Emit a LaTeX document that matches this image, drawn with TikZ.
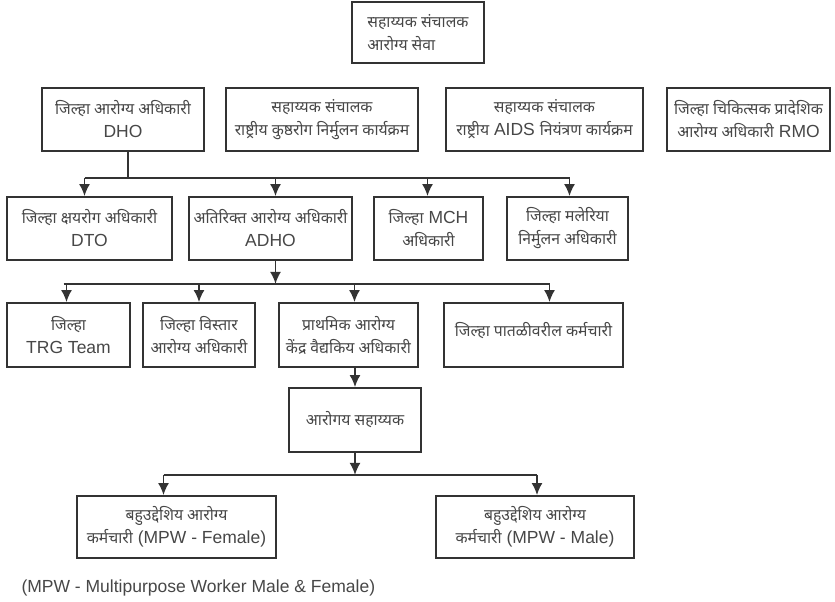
\documentclass[tikz,border=0pt]{standalone}
\usepackage{fontspec}
\setmainfont{Liberation Sans}
\newfontfamily\dvfont[Script=Devanagari,Scale=0.9]{Noto Sans}
\newcommand{\marathi}[1]{{\dvfont #1}}
\usetikzlibrary{arrows.meta}

\begin{document}
\begin{tikzpicture}[x=1pt, y=-1pt, >={Latex[length=12pt,width=11pt]},
  box/.style={draw=black!80, line width=1.8pt, text=black!72, minimum height=63pt,
    align=center, inner sep=2pt, font=\fontsize{17.5}{23}\selectfont},
  link/.style={draw=black!80, line width=1.8pt}]

\useasboundingbox (0,0) rectangle (835,602);

% top
\node (asd) [box, align=left, minimum width=132pt, minimum height=61pt] at (418,32.5)
  {\marathi{सहाय्यक संचालक}\\\marathi{आरोग्य सेवा}};

% row 1
\node (dho) [box, minimum width=162pt] at (123,119.5) {\marathi{जिल्हा आरोग्य अधिकारी}\\DHO};
\node (kusth) [box, minimum width=192pt] at (322,119.5) {\marathi{सहाय्यक संचालक}\\\marathi{राष्ट्रीय कुष्ठरोग निर्मुलन कार्यक्रम}};
\node (aids) [box, minimum width=197pt] at (544.5,119.5) {\marathi{सहाय्यक संचालक}\\\marathi{राष्ट्रीय} AIDS \marathi{नियंत्रण कार्यक्रम}};
\node (rmo) [box, minimum width=163pt] at (748.5,119.5) {\marathi{जिल्हा चिकित्सक प्रादेशिक}\\\marathi{आरोग्य अधिकारी} RMO};

% row 2
\node (dto) [box, minimum width=165pt] at (89.5,228.5) {\marathi{जिल्हा क्षयरोग अधिकारी}\\DTO};
\node (adho) [box, minimum width=163pt] at (270.5,228.5) {\marathi{अतिरिक्त आरोग्य अधिकारी}\\ADHO};
\node (mch) [box, minimum width=109pt] at (428.5,228.5) {\marathi{जिल्हा} MCH\\\marathi{अधिकारी}};
\node (mal) [box, minimum width=121pt] at (567.5,228.5) {\marathi{जिल्हा मलेरिया}\\\marathi{निर्मुलन अधिकारी}};

% row 3
\node (trg) [box, minimum width=123pt, minimum height=64pt] at (68.5,335) {\marathi{जिल्हा}\\TRG Team};
\node (vis) [box, minimum width=112pt, minimum height=64pt] at (199,335) {\marathi{जिल्हा विस्तार}\\\marathi{आरोग्य अधिकारी}};
\node (phc) [box, minimum width=139pt, minimum height=64pt] at (348.5,335) {\marathi{प्राथमिक आरोग्य}\\\marathi{केंद्र वैद्यकिय अधिकारी}};
\node (dist) [box, minimum width=179pt, minimum height=64pt] at (533.5,335) {};
\node (distlbl) [box, draw=none, minimum height=0pt] at ([yshift=4pt]dist.center) {\marathi{जिल्हा पातळीवरील कर्मचारी}};

% lower part
\node (ars) [box, minimum width=132pt, minimum height=64pt] at (355,420) {\marathi{आरोगय सहाय्यक}};
\node (mpwf) [box, minimum width=199pt, minimum height=62pt] at (176.5,527) {\marathi{बहुउद्देशिय आरोग्य}\\\marathi{कर्मचारी} (MPW - Female)};
\node (mpwm) [box, minimum width=198pt, minimum height=62pt] at (535,527) {\marathi{बहुउद्देशिय आरोग्य}\\\marathi{कर्मचारी} (MPW - Male)};

\node (note) [anchor=west, text=black!72, font=\fontsize{17.5}{23}\selectfont] at (18,588)
  {(MPW - Multipurpose Worker Male \& Female)};

% where the arrows come in
\foreach \n/\dx in {dto/-5, adho/5, mch/-1, mal/2, trg/-2, vis/0, phc/6, dist/16, mpwf/-13, mpwm/2}
  \coordinate (\n-in) at ([xshift=\dx pt]\n.north);

\draw[link] ([xshift=5pt]dho.south) -- ++(0,26) coordinate (bus1);
\draw[link] (dto-in |- bus1) -- (mal-in |- bus1);
\foreach \n in {dto,adho,mch,mal}
  \draw[link,->] (\n-in |- bus1) -- (\n-in);

\draw[link,->] (adho-in |- adho.south) -- ++(0,23) coordinate (bus2);
\draw[link] ([xshift=-3pt]trg-in |- bus2) -- (dist-in |- bus2);
\foreach \n in {trg,vis,phc,dist}
  \draw[link,->] (\n-in |- bus2) -- (\n-in);

\draw[link,->] (ars.north |- phc.south) -- (ars.north);

\draw[link,->] (ars.south) -- ++(0,22) coordinate (bus3);
\draw[link] (mpwf-in |- bus3) -- (mpwm-in |- bus3);
\foreach \n in {mpwf,mpwm}
  \draw[link,->] (\n-in |- bus3) -- (\n-in);

\end{tikzpicture}
\end{document}
